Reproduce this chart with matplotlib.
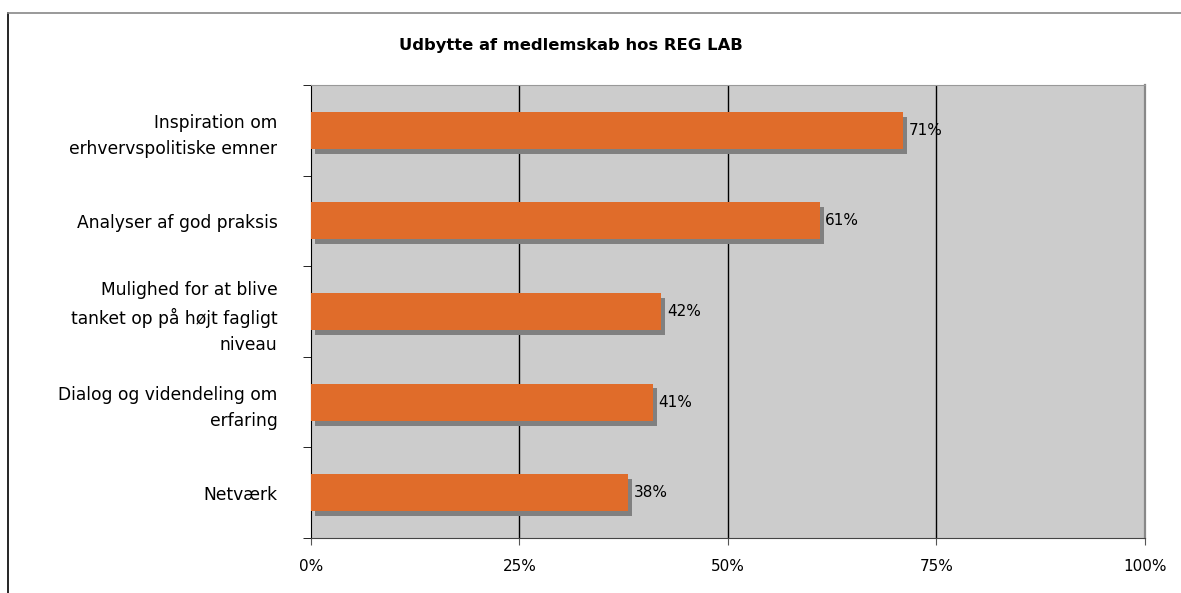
import matplotlib
matplotlib.use("Agg")
import matplotlib.pyplot as plt
import matplotlib.patheffects as pe
from matplotlib.lines import Line2D

kategorier = ["Inspiration om\nerhvervspolitiske emner",
              "Analyser af god praksis",
              "Mulighed for at blive\ntanket op på højt fagligt\nniveau",
              "Dialog og videndeling om\nerfaring",
              "Netværk"]
andele = [71, 61, 42, 41, 38]
x_ticks = [0, 25, 50, 75, 100]
x_labels = ["0%", "25%", "50%", "75%", "100%"]
titel = "Udbytte af medlemskab hos REG LAB"

plt.rcParams['font.family'] = 'DejaVu Sans'
plt.rcParams['font.size'] = 11

fig = plt.figure(figsize=(11.81, 5.93), dpi=100)
ax = fig.add_axes([0.2633, 0.0927, 0.7062, 0.764])
ax.set_facecolor('#cccccc')

y_pos = list(range(len(kategorier)))
bars = ax.barh(y_pos, andele, height=0.41, color='#e06c2a', zorder=3)
for b in bars:
    b.set_path_effects([pe.SimplePatchShadow(offset=(3, -3.5), shadow_rgbFace='#808080', alpha=1.0),
                        pe.Normal()])

for y, v in zip(y_pos, andele):
    ax.annotate(f"{v}%", (v, y), xytext=(4, 0), textcoords='offset points',
                va='center', ha='left', fontsize=11, zorder=4)

ax.set_xlim(0, 100)
ax.set_ylim(len(kategorier) - 0.5, -0.5)
ax.set_xticks(x_ticks)
ax.set_xticklabels(x_labels)
ax.set_yticks(y_pos)
ax.set_yticklabels(kategorier, multialignment='right', fontsize=12.3, linespacing=1.55)
ax.set_yticks([i + 0.5 for i in range(-1, len(kategorier))], minor=True)
ax.tick_params(axis='y', which='major', length=0, pad=24)
ax.tick_params(axis='y', which='minor', length=6, direction='out', color='black')
ax.tick_params(axis='x', length=5, direction='out', pad=10, color='#555555')

for x in x_ticks[1:-1]:
    ax.axvline(x, color='black', linewidth=1, zorder=2)

ax.spines['left'].set_color('black')
ax.spines['bottom'].set_color('#444444')
ax.spines['top'].set_color('#999999')
ax.spines['right'].set_color('#888888')
ax.spines['right'].set_linewidth(1.6)

fig.text(0.4835, 0.924, titel, ha='center', va='center', fontsize=11.8, fontweight='bold')

fig.add_artist(Line2D([0.0068, 0.0068], [0.0, 0.978], color='black', linewidth=1.2))
fig.add_artist(Line2D([0.0068, 1.0], [0.978, 0.978], color='#888888', linewidth=1.2))

fig.savefig("out.png", dpi=100)
